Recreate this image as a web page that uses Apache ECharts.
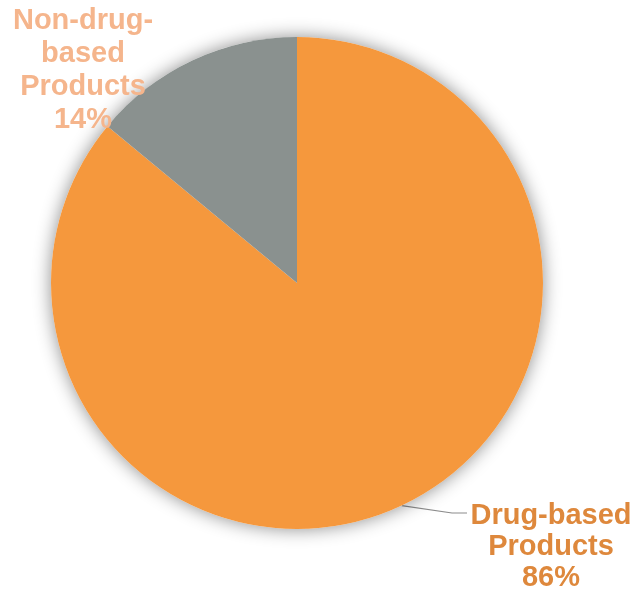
<!DOCTYPE html>
<html>
<head>
<meta charset="utf-8">
<script src="https://cdn.jsdelivr.net/npm/echarts@6/dist/echarts.min.js"></script>
<style>
html, body { margin: 0; padding: 0; background: #ffffff; }
#main { width: 640px; height: 596px; }
</style>
</head>
<body>
<div id="main"></div>
<script>
// categories and shares (%)
const categories = ['Drug-based\nProducts', 'Non-drug-\nbased\nProducts'];
const shares = [86, 14];
const sliceColors = ['#F5983D', '#8A918F'];
const labelColors = ['#DE883C', '#F5B58C'];

let chart = echarts.init(document.getElementById('main'));

const pieData = categories.map((name, i) => ({
    name: name,
    value: shares[i],
    itemStyle: { color: sliceColors[i] },
    label: {
        color: labelColors[i],
        lineHeight: i === 0 ? 31 : 33
    },
    labelLine: { show: i === 0 }
}));

chart.setOption({
    animation: false,
    series: [
        // shadow disc behind the pie
        {
            type: 'pie',
            silent: true,
            center: [297, 283],
            radius: [0, 246],
            label: { show: false },
            labelLine: { show: false },
            itemStyle: {
                color: '#ffffff',
                shadowBlur: 18,
                shadowColor: 'rgba(0,0,0,0.45)'
            },
            data: [{ value: 1 }]
        },
        {
            type: 'pie',
            center: [297, 283],
            radius: [0, 246],
            startAngle: 90,
            clockwise: true,
            label: {
                show: true,
                position: 'outside',
                formatter: '{b}\n{c}%',
                fontFamily: 'Liberation Sans',
                fontWeight: 'bold',
                fontSize: 29,
                align: 'center'
            },
            labelLine: {
                lineStyle: { color: '#8C8C8C', width: 1.2 }
            },
            labelLayout: function (params) {
                if (params.dataIndex === 0) {
                    // keep the anchor on the slice edge, bend towards the first text line
                    const start = params.labelLinePoints ? params.labelLinePoints[0] : [402, 506];
                    return {
                        x: 551, y: 547, align: 'center', verticalAlign: 'middle',
                        labelLinePoints: [start, [452, 513], [467, 513]]
                    };
                }
                return { x: 83, y: 70, align: 'center', verticalAlign: 'middle' };
            },
            data: pieData
        }
    ]
});
</script>
</body>
</html>
